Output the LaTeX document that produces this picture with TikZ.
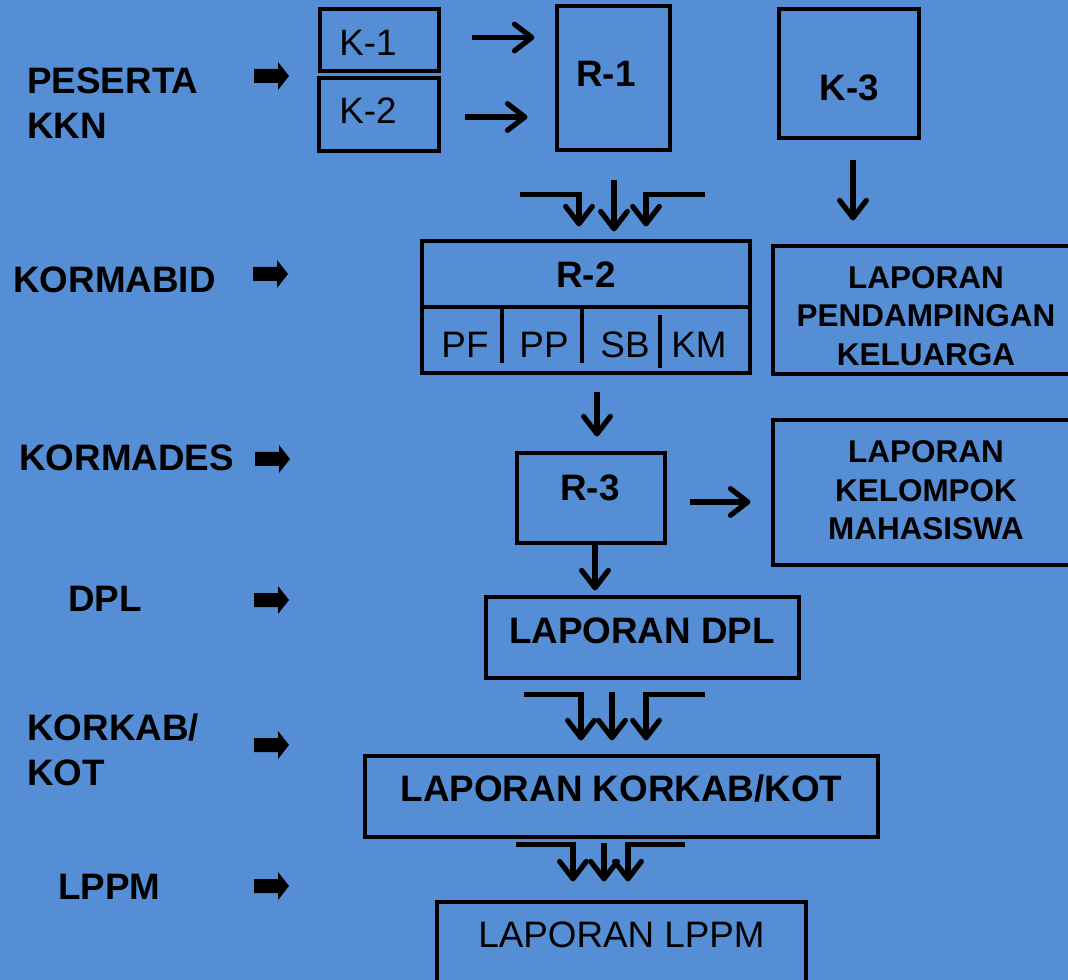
\documentclass[tikz,border=0pt]{standalone}
\usepackage{fontspec}
\setmainfont{Liberation Sans}
\usetikzlibrary{arrows.meta,fit,calc}
\definecolor{bgblue}{RGB}{85,142,213}
\begin{document}
\begin{tikzpicture}[x=0.75pt,y=-0.75pt,
  box/.style={draw=black,line width=2.4pt,inner sep=0pt},
  big/.style={font=\fontsize{27.6}{33.75}\selectfont\bfseries},
  reg/.style={font=\fontsize{27.6}{33.75}\selectfont},
  small/.style={font=\fontsize{23.6}{29}\selectfont\bfseries,align=center},
  txt/.style={inner sep=0pt,text=black},
  arr/.style={line width=3.9pt,-{Straight Barb[length=13pt,width=20pt,round]}},
  divider/.style={line width=2.4pt},
  blockarrow/.pic={\fill[black] (-17,-7) -- (7,-7) -- (7,-14) -- (18,0) -- (7,14) -- (7,7) -- (-17,7) -- cycle;}
]
\useasboundingbox (0,0) rectangle (1068,980);
\clip (0,0) rectangle (1068,980);
\fill[bgblue] (0,0) rectangle (1068,980);

% left level labels
\node[txt,big,anchor=west,align=left] (lpeserta) at (27,103) {PESERTA\\KKN};
\node[txt,big,anchor=west] (lkormabid) at (13,279.5) {KORMABID};
\node[txt,big,anchor=west] (lkormades) at (19,458) {KORMADES};
\node[txt,big,anchor=west] (ldpl) at (68,598.5) {DPL};
\node[txt,big,anchor=west,align=left] (lkorkab) at (27,749.5) {KORKAB/\\KOT};
\node[txt,big,anchor=west] (llppm) at (58,887) {LPPM};

% block arrows
\pic at (271,76) {blockarrow};
\pic at (270,274) {blockarrow};
\pic at (272,459) {blockarrow};
\pic at (271,600) {blockarrow};
\pic at (271,745) {blockarrow};
\pic at (271,886) {blockarrow};

% boxes
\node[box,fit={(320,9) (439,71)}] (k1) {};
\node[box,fit={(319,78) (439,151)}] (k2) {};
\node[box,fit={(557,6) (670,150)}] (r1) {};
\node[box,fit={(779,9) (919,138)}] (k3) {};
\node[box,fit={(422,241) (750,373)}] (r2) {};
\node[box,fit={(773,246) (1074,374)}] (lpd) {};
\node[box,fit={(517,453) (665,543)}] (r3) {};
\node[box,fit={(773,420) (1074,565)}] (lkm) {};
\node[box,fit={(486,597) (799,678)}] (dpl) {};
\node[box,fit={(365,756) (878,837)}] (kk) {};
\node[box,fit={(437,902) (806,995)}] (lppm) {};

% R-2 subdivisions
\draw[divider] (r2.west |- 0,307) -- (r2.east |- 0,307);
\draw[divider] (502,309) -- (502,363);
\draw[divider] (582,309) -- (582,363);
\draw[divider] (660,315) -- (660,368);

% texts
\node[txt,reg] (k1t) at (368,42.5) {K-1};
\node[txt,reg] (k2t) at (368,110.5) {K-2};
\node[txt,big] (r1t) at (606,74) {R-1};
\node[txt,big] (k3t) at (849.5,88) {K-3};
\node[txt,big] (r2t) at (586,274.5) {R-2};
\node[txt,reg] (pft) at (465,345) {PF};
\node[txt,reg] (ppt) at (544,345) {PP};
\node[txt,reg] (sbt) at (625,345) {SB};
\node[txt,reg] (kmt) at (699,345) {KM};
\node[txt,small] (lpdt) at (926,316) {LAPORAN\\PENDAMPINGAN\\KELUARGA};
\node[txt,small] (lkmt) at (926,490.5) {LAPORAN\\KELOMPOK\\MAHASISWA};
\node[txt,big] (r3t) at (590,487.5) {R-3};
\node[txt,big] (dplt) at (642,630.5) {LAPORAN DPL};
\node[txt,big] (kkt) at (621.5,788.5) {LAPORAN KORKAB/KOT};
\node[txt,reg] (lppmt) at (621.5,935) {LAPORAN LPPM};

% connectors
\draw[arr] ($(k1.east)+(31,-2.5)$) -- ($(k1.east -| r1.west)+(-21,-2.5)$);
\draw[arr] ($(k2.east)+(24,2.5)$) -- ($(k2.east -| r1.west)+(-28,2.5)$);
\draw[arr] ($(k3.south)+(4,20)$) -- ($(lpd.north -| k3.south)+(4,-24)$);
\draw[arr] ($(r2.south)+(11,17)$) -- ($(r3.north)+(6,-15)$);
\draw[arr] ($(r3.east)+(23,4)$) -- ($(r3.east -| lkm.west)+(-21,4)$);
\draw[arr] ($(r3.south)+(4,0)$) -- ($(dpl.north -| r3.south)+(4,-5)$);

% merging arrows into R-2
\draw[arr] ($(r2.north)+(-66,-45)$) -| ($(r2.north)+(-7,-13)$);
\draw[arr] ($(r2.north)+(28,-59)$) -- ($(r2.north)+(28,-8)$);
\draw[arr] ($(r2.north)+(119,-45)$) -| ($(r2.north)+(60,-13)$);

% merging arrows into KORKAB
\draw[arr] ($(kk.north)+(-97.5,-60)$) -| ($(kk.north)+(-40.5,-14)$);
\draw[arr] ($(kk.north)+(-9.5,-62)$) -- ($(kk.north)+(-9.5,-14)$);
\draw[arr] ($(kk.north)+(83.5,-60)$) -| ($(kk.north)+(24.5,-14)$);

% merging arrows into LPPM
\draw[arr] ($(lppm.north)+(-105.5,-56)$) -| ($(lppm.north)+(-48.5,-19)$);
\draw[arr] ($(lppm.north)+(-17.5,-57)$) -- ($(lppm.north)+(-17.5,-19)$);
\draw[arr] ($(lppm.north)+(63.5,-56)$) -| ($(lppm.north)+(6.5,-19)$);
\end{tikzpicture}
\end{document}
